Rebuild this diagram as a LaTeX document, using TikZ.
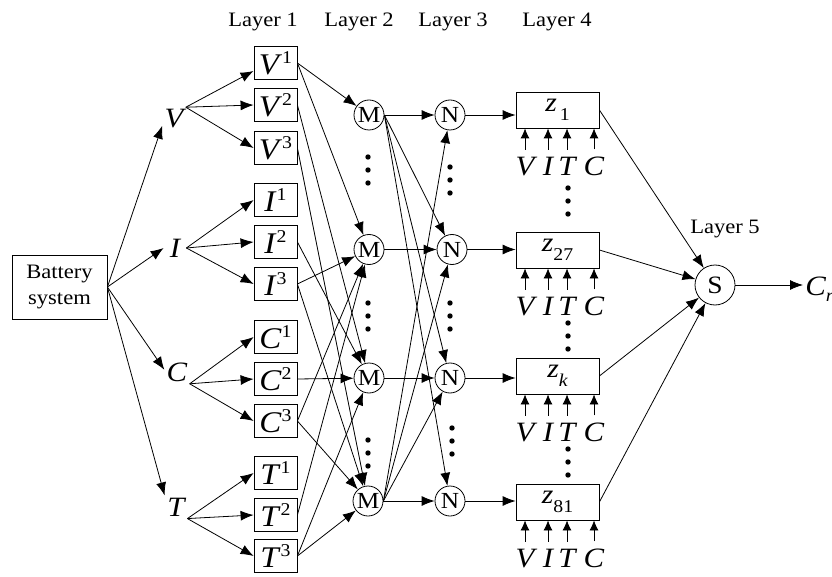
\documentclass[tikz,border=0pt]{standalone}
\usepackage{fontspec}
\setmainfont[FakeStretch=1.1]{Liberation Serif}
\usetikzlibrary{arrows.meta}

\newcommand\fs[1]{\fontsize{#1}{#1}\selectfont}
% fuzzy set label: italic letter with raised index
\newcommand\supv[2]{{\fs{30}\itshape #1\/}\raisebox{11pt}{\fs{18}#2}}
% rule output label: italic z with lowered index
\newcommand\zsub[1]{{\fs{27}\itshape z}\raisebox{-9pt}{\fs{18}#1}}

\begin{document}
\begin{tikzpicture}[x=1pt,y=-1pt,line width=0.8pt,
  arr/.style={-{Latex[length=13pt,width=10pt]}},
  sarr/.style={-{Latex[length=10pt,width=9pt]}},
  layerlab/.style={font=\fs{20.5},anchor=base,inner sep=0pt},
  varlab/.style={font=\fs{28}\itshape,inner sep=2pt,minimum width=22pt,minimum height=22pt},
  fbx/.style={draw,minimum width=43pt,minimum height=33pt,inner sep=0pt},
  cnode/.style={draw,circle,minimum size=30pt,inner sep=0pt,font=\fs{23}},
  rbx/.style={draw,minimum width=83pt,minimum height=36pt,inner sep=0pt},
  inlab/.style={font=\fs{28}\itshape,anchor=base,inner sep=0pt}]

\useasboundingbox (0,0) rectangle (832,577);

% layer titles
\node[layerlab] (t1) at (263,27) {Layer 1};
\node[layerlab] (t2) at (359,27) {Layer 2};
\node[layerlab] (t3) at (453,27) {Layer 3};
\node[layerlab] (t4) at (557,27) {Layer 4};
\node[layerlab] (t5) at (725,234) {Layer 5};

% input system and measured variables
\node[draw,minimum width=95pt,minimum height=64pt,inner sep=0pt,align=center,
      font=\fontsize{20.5}{26}\selectfont] (bat) at (59.5,287) {Battery\\system};
\node[varlab] (V) at (174,119) {V};
\node[varlab] (I) at (175,248) {I};
\node[varlab] (C) at (177,372) {C};
\node[varlab] (T) at (176,507) {T};

\draw[arr] (bat.east) -- (V.210);
\draw[arr] (bat.east) -- (I.west);
\draw[arr] (bat.east) -- (C.170);
\draw[arr] (bat.east) -- (T.north west);

% layer 1: membership functions
\foreach \v/\ya/\yb/\yc in {V/63/105/148, I/200/242/284, C/337/379/421, T/473/515/556}{
  \node[fbx] (\v1) at (275.5,\ya) {\supv{\v}{1}};
  \node[fbx] (\v2) at (275.5,\yb) {\supv{\v}{2}};
  \node[fbx] (\v3) at (275.5,\yc) {\supv{\v}{3}};
}
\draw[arr] (V.north east) -- (V1.200);
\draw[arr] (V.north east) -- (V2.west);
\draw[arr] (V.north east) -- (V3.west);
\draw[arr] (I.east) -- (I1.west);
\draw[arr] (I.east) -- (I2.west);
\draw[arr] (I.east) -- (I3.west);
\draw[arr] (C.south east) -- (C1.west);
\draw[arr] (C.south east) -- (C2.west);
\draw[arr] (C.south east) -- (C3.west);
\draw[arr] (T.south east) -- (T1.west);
\draw[arr] (T.south east) -- (T2.west);
\draw[arr] (T.south east) -- (T3.west);

% layer 2 and layer 3 nodes
\node[cnode] (M1) at (369,115) {M};
\node[cnode] (M2) at (369,249.5) {M};
\node[cnode] (M3) at (369,378) {M};
\node[cnode] (M4) at (368,501) {M};
\node[cnode] (N1) at (450,115) {N};
\node[cnode] (N2) at (452,249.5) {N};
\node[cnode] (N3) at (450,378) {N};
\node[cnode] (N4) at (450,501) {N};

% layer 1 -> layer 2
\draw[arr] (V1.east) -- (M1);
\draw[arr] (V1.east) -- (M2);
\draw[arr] (I3.east) -- (M2);
\draw[arr] (C3.east) -- (M2);
\draw[arr] (T2.east) -- (M2);
\draw[arr] (V2.east) -- (M3);
\draw[arr] (I2.east) -- (M3);
\draw[arr] (C2.east) -- (M3);
\draw[arr] (T3.east) -- (M3);
\draw[arr] (V3.east) -- (M4);
\draw[arr] (I3.east) -- (M4);
\draw[arr] (C3.east) -- (M4);
\draw[arr] (T3.east) -- (M4);

% layer 2 -> layer 3
\draw[arr] (M1) -- (N1);
\draw[arr] (M2) -- (N2);
\draw[arr] (M3) -- (N3);
\draw[arr] (M4) -- (N4);
\draw[arr] (M1.east) -- (N2);
\draw[arr] (M1.east) -- (N3);
\draw[arr] (M1.east) -- (N4);
\draw[arr] (M4.east) -- (N1);
\draw[arr] (M4.east) -- (N2);
\draw[arr] (M4.east) -- (N3);

% layer 4: rule consequents with their inputs
\foreach \n/\y/\lab in {z1/110/{\kern3pt 1}, z27/250/27, zk/376/{\itshape k}, z81/502/81}{
  \node[rbx] (\n) at (557.5,\y) {\zsub{\lab}};
}
\foreach \n in {z1,z27,zk,z81}{
  \foreach \l/\dx in {V/-32.5, I/-9.5, T/9.5, C/36.5}{
    \node[inlab] (\n\l) at ([shift={(\dx,47)}]\n.south) {\l};
    \draw[sarr,shorten <=7pt] (\n\l.north) -- (\n\l.north |- \n.south);
  }
}
\draw[arr] (N1) -- (N1 -| z1.west);
\draw[arr] (N2) -- (N2 -| z27.west);
\draw[arr] (N3) -- (N3 -| zk.west);
\draw[arr] (N4) -- (N4 -| z81.west);

% layer 5: summation and output
\node[cnode,minimum size=40pt,font=\fs{25}] (S) at (715,285) {S};
\node[anchor=west,inner sep=2pt] (Cr) at (803,289) {{\fs{28}\itshape C}\raisebox{-6pt}{\fs{18}\itshape r}};
\draw[arr] (z1.east) -- (S);
\draw[arr] (z27.east) -- (S);
\draw[arr] (zk.east) -- (S);
\draw[arr] (z81.east) -- (S);
\draw[arr] (S.east) -- (S.east -| Cr.west);

% vertical ellipses
\foreach \x/\y in {368/157, 368/303, 368/440, 450/167, 450/303, 452/428,
                   568/188, 568/323, 568/449}{
  \foreach \k in {0,1,2}{
    \fill (\x,\y+13*\k) circle (2.7);
  }
}
\end{tikzpicture}
\end{document}
